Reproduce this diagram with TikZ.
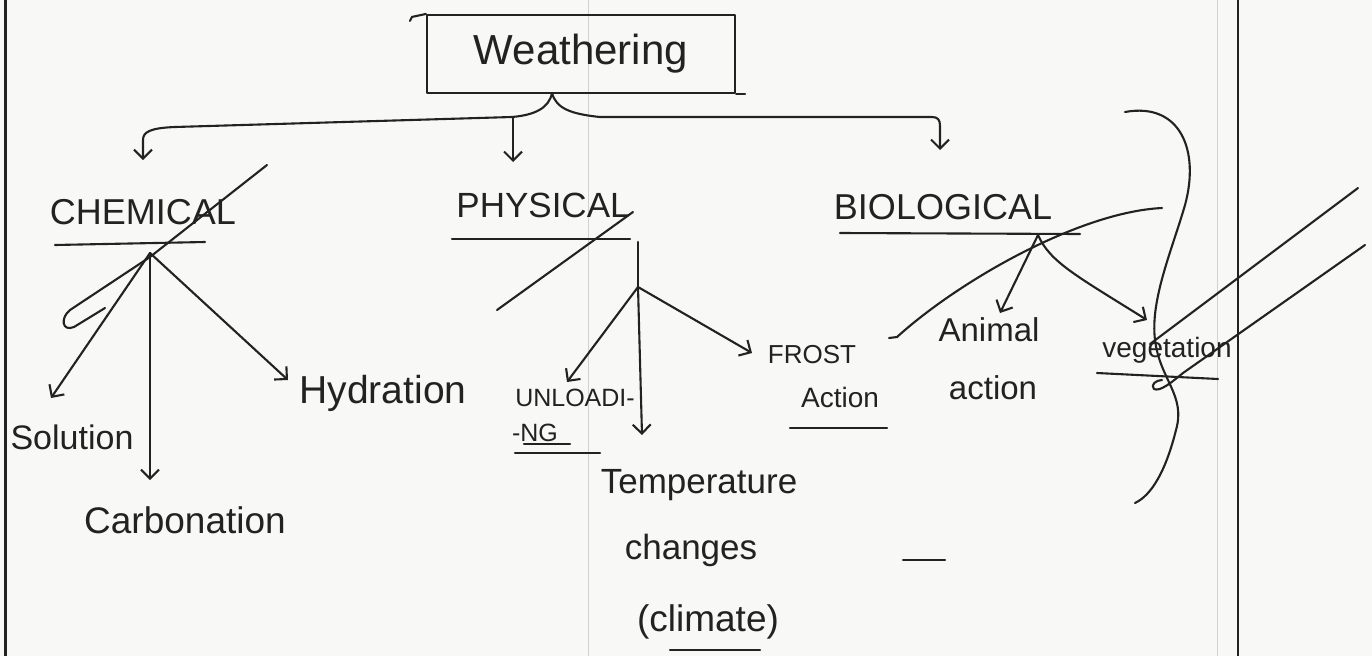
\documentclass[tikz,border=0pt]{standalone}
\usepackage{fontspec}
\setmainfont{Liberation Sans}
\usetikzlibrary{arrows.meta}
\definecolor{inkc}{HTML}{222222}
\definecolor{paper}{HTML}{F8F8F6}
\begin{document}
\begin{tikzpicture}[x=1pt,y=-1pt,
  ink/.style={draw=inkc, line width=2.1pt, line cap=round, line join=round},
  arr/.style={ink, -{Straight Barb[length=9pt,width=18pt,line width=2.1pt]}},
  lbl/.style={text=inkc, inner sep=0pt, anchor=center},
  capsz/.style={font=\fontsize{36}{36}\selectfont},
  midsz/.style={font=\fontsize{34}{34}\selectfont},
  smallsz/.style={font=\fontsize{25}{25}\selectfont},
  faint/.style={draw=black!18, line width=0.8pt}]
\useasboundingbox[fill=paper] (0,0) rectangle (1372,656);
% paper lines
\draw[faint] (588,0) -- (588,656);
\draw[faint] (1217,0) -- (1217,656);
\draw[draw=inkc, line width=3pt] (5,0) -- (5,656);
\draw[draw=inkc, line width=2.5pt] (1238,0) -- (1238,656);

% root
\node[ink, lbl, minimum width=308pt, minimum height=78pt, font=\fontsize{42}{42}\selectfont] (w) at (581,54) {Weathering};
\draw[ink] (w.north west) -- ++(-14,3) -- ++(-2,4);
\draw[ink] (w.south east) -- ++(9,0);
\coordinate (br) at (552,93);
\coordinate (pm) at (513,117);
\coordinate (chemTip) at (143,160);
\coordinate (physTip) at (513,162);
\coordinate (bioTip) at (940,150);
\draw[arr] (br) .. controls (549,108) and (535,115) .. (512,117) -- (175,127) .. controls (150,128) and (143,132) .. (143,140) -- (chemTip);
\draw[arr] (pm) -- (physTip);
\draw[arr] (br) .. controls (556,108) and (570,114) .. (600,117) -- (932,117) .. controls (938,117) and (940,120) .. (940,126) -- (bioTip);

% chemical
\node[lbl, capsz] (chem) at (143,212) {CHEMICAL};
\coordinate (chemUL) at (55,245);
\coordinate (chemUR) at (205,242);
\draw[ink] (chemUL) -- (chemUR);
\coordinate (chemJ) at (150,253);
\node[lbl, midsz] (sol) at (72,437) {Solution};
\node[lbl, font=\fontsize{37}{37}\selectfont] (carb) at (185,520) {Carbonation};
\node[lbl, font=\fontsize{39}{39}\selectfont] (hyd) at (383,393) {Hydration};
\coordinate (solTip) at (51,398);
\coordinate (carbTip) at (150,480);
\coordinate (hydTip) at (288,380);
\draw[arr] (chemJ) -- (solTip);
\draw[arr] (chemJ) -- (carbTip);
\draw[arr] (chemJ) -- (hydTip);
\coordinate (cs1) at (267,165);
\draw[ink] (cs1) -- (150,257) -- (70,310) .. controls (60,318) and (62,332) .. (74,327) -- (105,308);

% physical
\node[lbl, font=\fontsize{35}{35}\selectfont] (phys) at (543,205) {PHYSICAL};
\coordinate (physUL) at (452,239);
\coordinate (physUR) at (630,239);
\draw[ink] (physUL) -- (physUR);
\coordinate (ps1) at (633,212);
\coordinate (ps2) at (497,310);
\draw[ink] (ps1) -- (ps2);
\coordinate (physTop) at (638,242);
\coordinate (physJ) at (638,287);
\draw[ink] (physTop) -- (physJ);
\node[lbl, smallsz] (unl) at (575,398) {UNLOADI-};
\node[lbl, smallsz] (ng) at (535,433) {-NG};
\draw[ink] (524,444) -- (570,444);
\draw[ink] (515,453) -- (600,453);
\node[lbl, font=\fontsize{35}{35}\selectfont] (temp) at (699,485) {Temperature};
\node[lbl, font=\fontsize{35}{35}\selectfont] (chg) at (691,550) {changes};
\node[lbl, font=\fontsize{37}{37}\selectfont] (clim) at (708,622) {(climate)};
\draw[ink] (670,650) -- (760,650);
\node[lbl, font=\fontsize{26}{26}\selectfont] (frost) at (812,355) {FROST};
\node[lbl, font=\fontsize{28}{28}\selectfont] (fact) at (840,397) {Action};
\draw[ink] (790,428) -- (887,428);
\coordinate (unlTip) at (567,382);
\coordinate (tempTip) at (642,435);
\coordinate (frostTip) at (752,353);
\draw[arr] (physJ) -- (unlTip);
\draw[arr] (physJ) -- (tempTip);
\draw[arr] (physJ) -- (frostTip);

% biological
\node[lbl, capsz] (bio) at (943,207) {BIOLOGICAL};
\coordinate (bioUL) at (840,233);
\coordinate (bioUR) at (1080,234);
\draw[ink] (bioUL) -- (bioUR);
\coordinate (bioJ) at (1038,235);
\node[lbl, font=\fontsize{33}{33}\selectfont] (ani) at (989,330) {Animal};
\node[lbl, font=\fontsize{33}{33}\selectfont] (aact) at (993,388) {action};
\node[lbl, font=\fontsize{28}{28}\selectfont] (veg) at (1167,350) {vegetation};
\draw[ink] (1097,373) -- (1218,379);
\coordinate (aniTip) at (1000,313);
\coordinate (vegTip) at (1147,320);
\draw[arr] (bioJ) -- (aniTip);
\draw[arr] (bioJ) .. controls (1050,262) and (1075,275) .. (vegTip);

% strike-outs on the right
\coordinate (bs1) at (1162,208);
\draw[ink] (bs1) .. controls (1080,212) and (960,280) .. (897,337) -- (889,338);
\coordinate (sc1) at (1125,112);
\draw[ink] (sc1) .. controls (1180,102) and (1200,150) .. (1185,205) .. controls (1172,250) and (1150,300) .. (1155,340) .. controls (1160,380) and (1186,395) .. (1176,430) .. controls (1166,470) and (1152,495) .. (1135,503);
\coordinate (da1) at (1358,188);
\coordinate (da2) at (1150,344);
\draw[ink] (da1) -- (da2);
\coordinate (db1) at (1365,245);
\draw[ink] (db1) -- (1183,373) .. controls (1172,382) and (1160,392) .. (1154,389) .. controls (1150,385) and (1156,380) .. (1162,380);
\coordinate (dsh1) at (903,560);
\coordinate (dsh2) at (945,560);
\draw[ink] (dsh1) -- (dsh2);
\end{tikzpicture}
\end{document}
